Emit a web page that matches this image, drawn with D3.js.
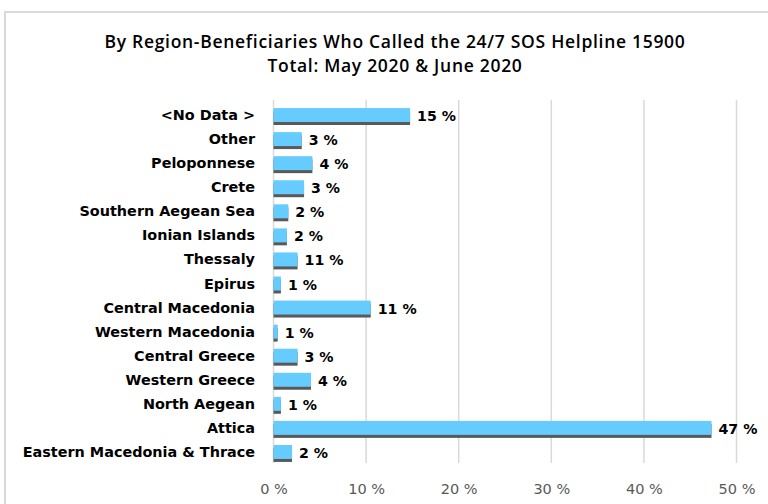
<!DOCTYPE html>
<html>
<head>
<meta charset="UTF-8">
<title>SOS Helpline 15900 by region</title>
<style>
  body { margin: 0; background: #fff; }
  .grid line { stroke: #d9d9d9; stroke-width: 1.5px; }
  .cat { font-family: "DejaVu Sans", sans-serif; font-weight: bold; font-size: 14.4px; fill: #000; }
  .val { font-family: "DejaVu Sans", sans-serif; font-weight: bold; font-size: 14.2px; fill: #000; }
  .tick-label { font-family: "DejaVu Sans", sans-serif; font-size: 14.5px; fill: #595959; }
  .title { font-family: "Open Sans", sans-serif; font-weight: 600; font-size: 17.5px; letter-spacing: 0.7px; fill: #000; }
</style>
<script src="https://d3js.org/d3.v7.min.js"></script>
</head>
<body>
<script>
// regions, top to bottom as shown
var regions = ["<No Data >", "Other ", "Peloponnese", "Crete", "Southern Aegean Sea",
  "Ionian Islands", "Thessaly", "Epirus", "Central Macedonia", "Western Macedonia",
  "Central Greece", "Western Greece", "North Aegean", "Attica", "Eastern Macedonia & Thrace"];
// bar lengths (percent)
var shares = [14.75, 3.05, 4.2, 3.3, 1.6, 1.45, 2.6, 0.8, 10.5, 0.45, 2.6, 4.05, 0.8, 47.3, 2.0];
// printed labels (as in the original, not always matching the bar)
var valueLabels = ["15 %", "3 %", "4 %", "3 %", "2 %", "2 %", "11 %", "1 %", "11 %", "1 %",
  "3 %", "4 %", "1 %", "47 %", "2 %"];
var ticks = [0, 10, 20, 30, 40, 50];
var titleLines = ["By Region-Beneficiaries Who Called the 24/7 SOS Helpline 15900",
  "Total:  May 2020 & June 2020"];

var W = 768, H = 504;
var svg = d3.select("body").append("svg").attr("width", W).attr("height", H);

// chart area border (runs off the right and bottom edges)
svg.append("rect")
  .attr("x", 5).attr("y", 12).attr("width", 800).attr("height", 600)
  .attr("fill", "none").attr("stroke", "#d9d9d9").attr("stroke-width", 2);

svg.selectAll("text.title").data(titleLines).enter().append("text")
  .attr("class", "title")
  .attr("x", 395)
  .attr("y", function(d, i) { return 48 + i * 24; })
  .attr("text-anchor", "middle")
  .text(function(d) { return d; });

var x = d3.scaleLinear().domain([0, 50]).range([273.5, 736.5]);
var y = d3.scaleBand().domain(regions).range([103, 464]).paddingInner(0.42).paddingOuter(0.21);

// vertical gridlines
svg.append("g").attr("class", "grid")
  .selectAll("line").data(ticks).enter().append("line")
  .attr("x1", function(d) { return x(d); }).attr("x2", function(d) { return x(d); })
  .attr("y1", 100).attr("y2", 463);

// x axis labels
svg.append("g").attr("transform", "translate(0,494)")
  .call(d3.axisBottom(x).tickValues(ticks).tickSize(0).tickPadding(0)
    .tickFormat(function(d) { return d + " %"; }))
  .call(function(g) { g.select(".domain").remove(); })
  .selectAll("text").attr("class", "tick-label").attr("fill", null).attr("dy", 0)
  .attr("font-size", null).attr("font-family", null);

// bars with a dark bottom shadow
var rows = svg.append("g").selectAll("g").data(regions).enter().append("g");
rows.append("rect")
  .attr("x", x(0))
  .attr("y", function(d) { return y(d) + 3; })
  .attr("width", function(d, i) { return x(shares[i]) - x(0); })
  .attr("height", y.bandwidth())
  .attr("fill", "#595959");
rows.append("rect")
  .attr("x", x(0))
  .attr("y", function(d) { return y(d); })
  .attr("width", function(d, i) { return x(shares[i]) - x(0); })
  .attr("height", y.bandwidth())
  .attr("fill", "#66ccff");

rows.append("text").attr("class", "val")
  .attr("x", function(d, i) { return x(shares[i]) + 7; })
  .attr("y", function(d) { return y(d) + y.bandwidth() / 2 + 2; })
  .attr("dominant-baseline", "middle")
  .text(function(d, i) { return valueLabels[i]; });

rows.append("text").attr("class", "cat")
  .attr("x", 255)
  .attr("y", function(d) { return y(d) + y.bandwidth() / 2 + 1; })
  .attr("dominant-baseline", "middle")
  .attr("text-anchor", "end")
  .text(function(d) { return d; });
</script>
</body>
</html>
